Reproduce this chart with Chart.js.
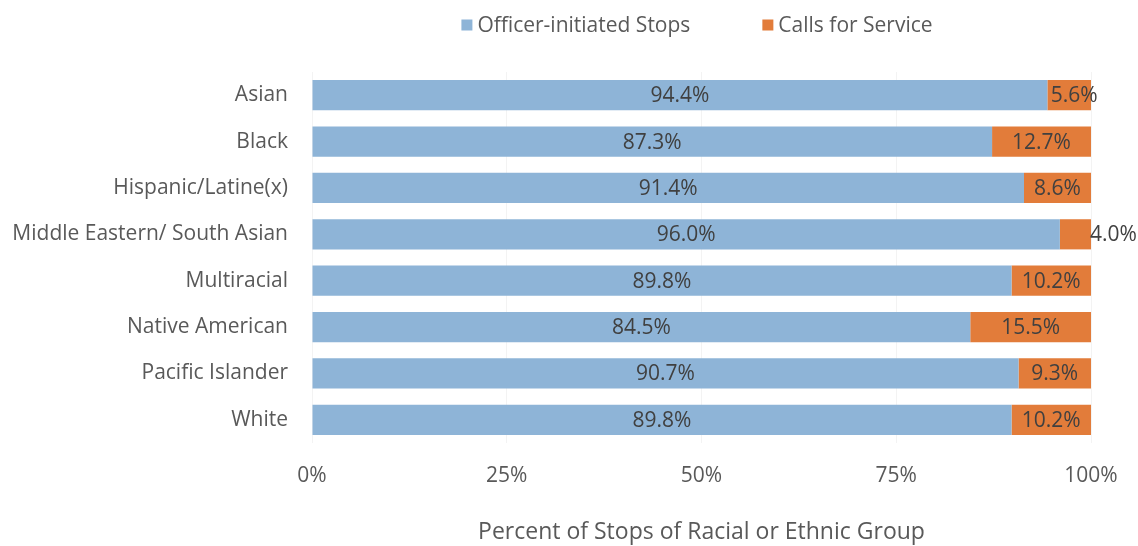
<!DOCTYPE html>
<html>
<head>
<meta charset="utf-8">
<script src="https://cdn.jsdelivr.net/npm/chart.js@4/dist/chart.umd.min.js"></script>
<style>
  html, body { margin: 0; padding: 0; background: #ffffff; }
  #wrap { width: 1138px; height: 546px; position: relative; }
</style>
</head>
<body>
<div id="wrap"><canvas id="c" width="1138" height="546"></canvas></div>
<script>
// ---- data ----
const categories = [
  'Asian', 'Black', 'Hispanic/Latine(x)', 'Middle Eastern/ South Asian',
  'Multiracial', 'Native American', 'Pacific Islander', 'White'
];
const officerInitiated = [94.4, 87.3, 91.4, 96.0, 89.8, 84.5, 90.7, 89.8];
const callsForService  = [5.6, 12.7, 8.6, 4.0, 10.2, 15.5, 9.3, 10.2];
const seriesNames = ['Officer-initiated Stops', 'Calls for Service'];
const xTickValues = [0, 25, 50, 75, 100];
const xAxisTitle = 'Percent of Stops of Racial or Ethnic Group';

// ---- style ----
const FONT = "'Open Sans', 'DejaVu Sans', sans-serif";
const BLUE = '#8EB4D7';
const ORANGE = '#E27C3A';
const TEXT = '#595959';
const LABEL = '#404040';

const valueLabels = {
  id: 'valueLabels',
  afterDatasetsDraw(chart) {
    const ctx = chart.ctx;
    ctx.save();
    ctx.font = '21px ' + FONT;
    ctx.fillStyle = LABEL;
    ctx.textBaseline = 'middle';
    chart.data.datasets.forEach((ds, di) => {
      const meta = chart.getDatasetMeta(di);
      meta.data.forEach((bar, i) => {
        const v = ds.data[i];
        const txt = v.toFixed(1) + '%';
        const w = ctx.measureText(txt).width;
        const x0 = Math.min(bar.base, bar.x), x1 = Math.max(bar.base, bar.x);
        const seg = x1 - x0;
        if (w > seg * 1.4) {
          ctx.textAlign = 'left';
          ctx.fillText(txt, x1 - 1, bar.y + 1);
        } else {
          ctx.textAlign = 'center';
          ctx.fillText(txt, (x0 + x1) / 2 + (w > seg ? 5 : 0), bar.y + 1);
        }
      });
    });
    ctx.restore();
  }
};

const customLegend = {
  id: 'customLegend',
  afterDraw(chart) {
    const ctx = chart.ctx;
    ctx.save();
    ctx.font = '21px ' + FONT;
    ctx.textBaseline = 'middle';
    ctx.textAlign = 'left';
    const sq = 11, gap = 5, itemGap = 72;
    const colors = [BLUE, ORANGE];
    const widths = seriesNames.map(s => ctx.measureText(s).width);
    const total = widths.reduce((a, w) => a + sq + gap + w, 0) + itemGap * (seriesNames.length - 1);
    let x = 697 - total / 2;
    const y = 25;
    seriesNames.forEach((s, i) => {
      ctx.fillStyle = colors[i];
      ctx.fillRect(x, y - sq / 2, sq, sq);
      x += sq + gap;
      ctx.fillStyle = TEXT;
      ctx.fillText(s, x, y + 1);
      x += widths[i] + itemGap;
    });
    ctx.restore();
  }
};

new Chart(document.getElementById('c'), {
  type: 'bar',
  data: {
    labels: categories,
    datasets: [
      { label: seriesNames[0], data: officerInitiated, backgroundColor: BLUE, borderWidth: 0 },
      { label: seriesNames[1], data: callsForService, backgroundColor: ORANGE, borderWidth: 0 }
    ]
  },
  options: {
    indexAxis: 'y',
    responsive: false,
    animation: false,
    devicePixelRatio: 1,
    layout: { padding: { top: 72, right: 47, bottom: 0, left: 0 } },
    datasets: { bar: { categoryPercentage: 1.0, barPercentage: 0.65 } },
    plugins: {
      legend: { display: false },
      tooltip: { enabled: false },
      title: { display: false }
    },
    scales: {
      x: {
        stacked: true,
        min: 0,
        max: 100,
        afterBuildTicks(scale) { scale.ticks = xTickValues.map(v => ({ value: v })); },
        afterFit(scale) { scale.height = 103; },
        grid: { color: '#F3F3F3', drawTicks: false, lineWidth: 1 },
        border: { display: false },
        ticks: {
          padding: 20,
          color: TEXT,
          font: { family: FONT, size: 21 },
          callback: v => v + '%'
        },
        title: {
          display: true,
          text: xAxisTitle,
          color: TEXT,
          font: { family: FONT, size: 23 },
          padding: { top: 0, bottom: 0 }
        }
      },
      y: {
        stacked: true,
        afterFit(scale) { scale.width = 312; },
        grid: { display: false, drawTicks: false },
        border: { display: false },
        ticks: {
          padding: 24,
          color: TEXT,
          font: { family: FONT, size: 21 }
        }
      }
    }
  },
  plugins: [valueLabels, customLegend]
});
</script>
</body>
</html>
